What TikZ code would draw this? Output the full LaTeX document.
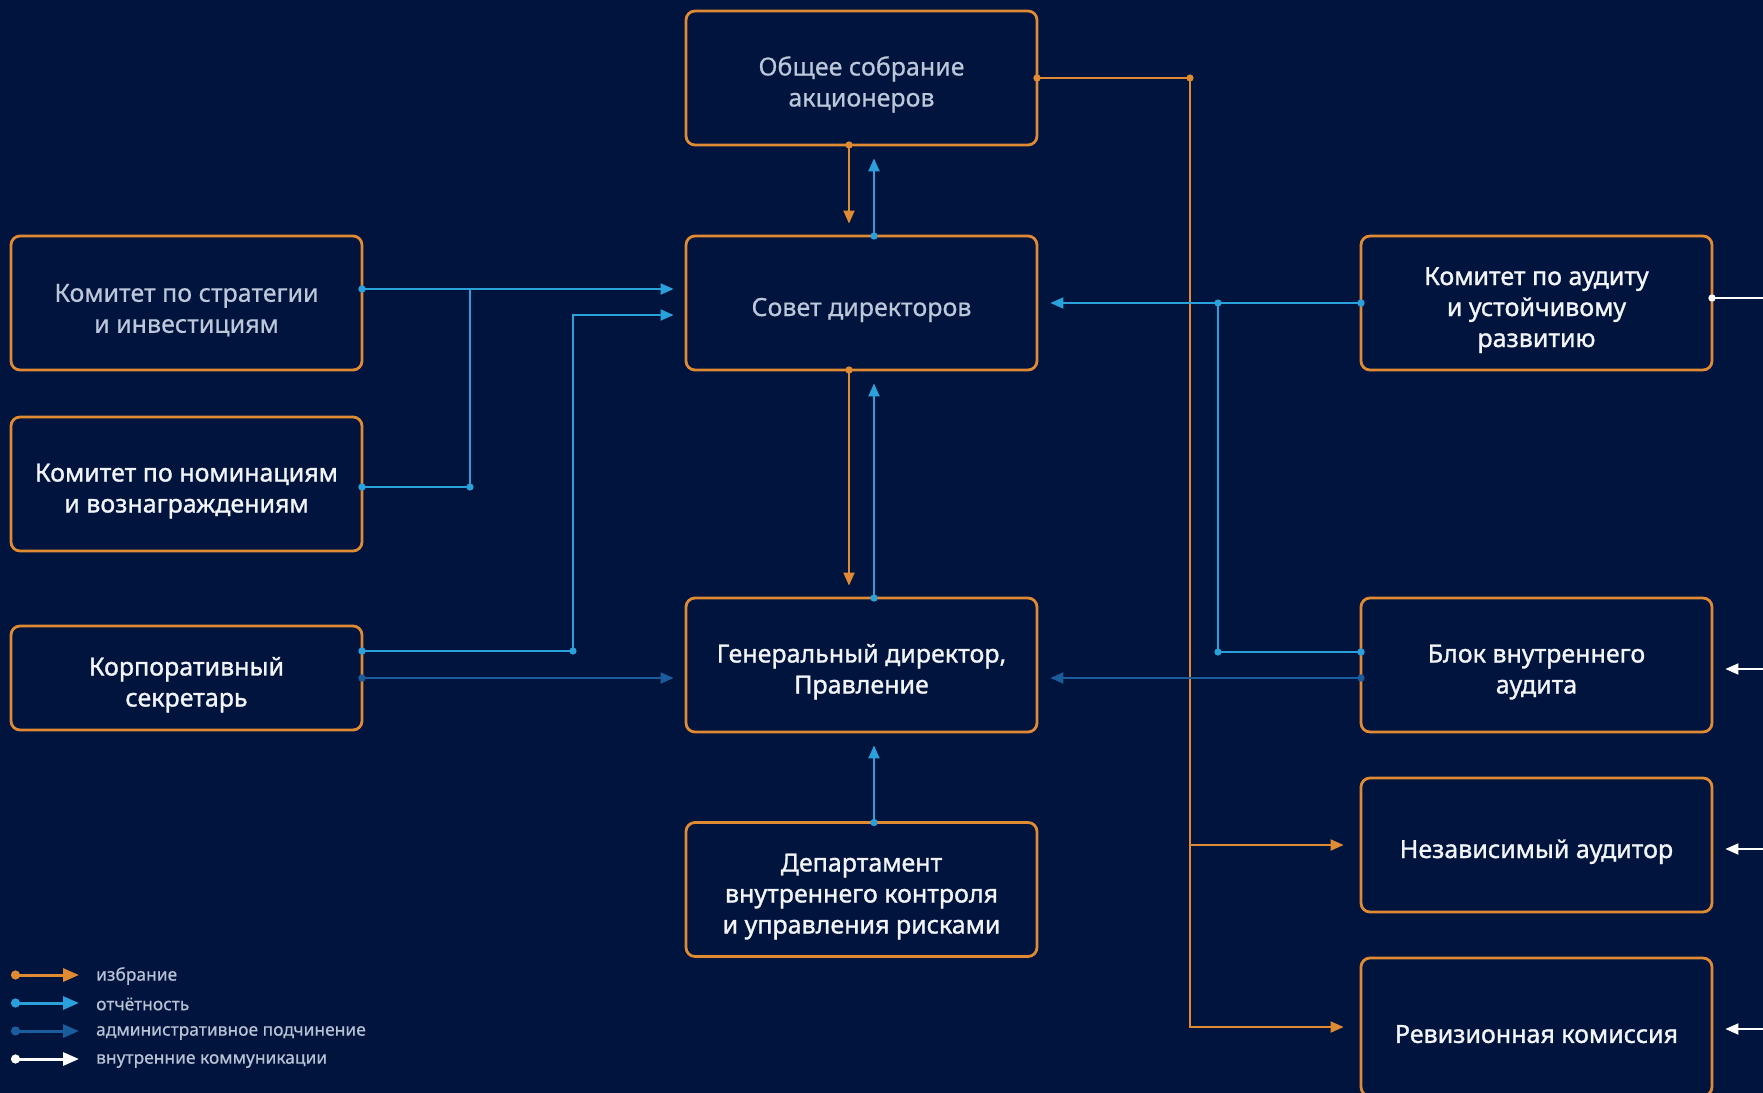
\documentclass[tikz,border=0pt]{standalone}
\usepackage{fontspec}
\setmainfont{Noto Sans}
\newfontfamily\boxfont{Noto Sans}[FakeBold=1.2]
\newfontfamily\dimfont{Noto Sans}[FakeBold=0.5]
\newfontfamily\legfont{Noto Sans}[FakeBold=0.6]
\usetikzlibrary{arrows.meta}

\definecolor{bg}{HTML}{00143D}
\definecolor{elect}{HTML}{E08A33}
\definecolor{report}{HTML}{2BA1DC}
\definecolor{admin}{HTML}{1A5C9C}
\definecolor{txt}{HTML}{F2F4F8}
\definecolor{txtdim}{HTML}{BCC7DA}
\definecolor{legtxt}{HTML}{B9C2D4}

% lowers the text a little inside its box
\newcommand{\lift}{\rule{0pt}{16pt}}

\begin{document}
\begin{tikzpicture}[x=0.5pt,y=-0.5pt]
		\fill[bg] (0,0) rectangle (1763,1093);
		\useasboundingbox (0,0) rectangle (1763,1093);
		\begin{scope}[every node/.style={draw=elect,line width=1.4pt,rounded corners=4.5pt,
			fill=bg,text=txt,align=center,minimum width=175.5pt,minimum height=67pt,
			font=\boxfont\fontsize{12.5}{15.5}\selectfont},
			dimbox/.style={text=txtdim,font=\dimfont\fontsize{12.5}{15.5}\selectfont}]
			\node[dimbox] (gms) at (861.5,78) {\lift Общее собрание\\акционеров};
			\node[dimbox] (sd) at (861.5,303) {\lift Совет директоров};
			\node (gd) at (861.5,665) {\lift Генеральный директор,\\Правление};
			\node (dic) at (861.5,889.5) {\lift Департамент\\внутреннего контроля\\и управления рисками};
			\node[dimbox] (str) at (186.5,303) {\lift Комитет по стратегии\\и инвестициям};
			\node (nom) at (186.5,484) {\lift Комитет по номинациям\\и вознаграждениям};
			\node[minimum height=52pt] (sec) at (186.5,678) {\lift Корпоративный\\секретарь};
			\node (ac) at (1536.5,303) {\lift Комитет по аудиту\\и устойчивому\\развитию};
			\node (ia) at (1536.5,665) {\lift Блок внутреннего\\аудита};
			\node (ext) at (1536.5,845) {\lift Независимый аудитор};
			\node[minimum height=69pt] (rev) at (1536.5,1027) {\lift Ревизионная комиссия};
		\end{scope}
		% junctions and free ends
		\coordinate (etop) at (1190,78);
		\coordinate (strj) at (470,289);
		\coordinate (nomj) at (470,487);
		\coordinate (secb) at (573,651);
		\coordinate (secu) at (573,315);
		\coordinate (acj) at (1218,303);
		\coordinate (iaj) at (1218,652);
		\coordinate (acout) at (1763,298);
		\coordinate (iain) at (1763,669);
		\coordinate (extin) at (1763,849);
		\coordinate (revin) at (1763,1029);
		\begin{scope}[line width=1pt,
			>={Triangle[length=6.5pt,width=5.5pt]},
			elline/.style={draw=elect,{Circle[length=3.6pt]}->,shorten <=-2.5pt},
			repline/.style={draw=report,{Circle[length=3.6pt]}->,shorten <=-2.5pt},
			repjoin/.style={draw=report,{Circle[length=3.6pt]}-,shorten <=-2.5pt},
			admline/.style={draw=admin,{Circle[length=3.6pt]}->,shorten <=-2.5pt},
			comline/.style={draw=white,->}]
			% election
			\draw[elline,shorten >=5.5pt] ([xshift=-6.25pt]gms.south) -- ([xshift=-6.25pt]sd.north);
			\draw[elline,shorten >=5.5pt] ([xshift=-6.25pt]sd.south) -- ([xshift=-6.25pt]gd.north);
			\draw[elline,shorten >=8pt] (gms.east) -- (etop) |- (rev.west);
			\draw[draw=elect,->,shorten >=8pt] (etop |- ext.west) -- (ext.west);
			% reporting
			\draw[repline,shorten >=6pt] ([xshift=6.25pt]sd.north) -- ([xshift=6.25pt]gms.south);
			\draw[repline,shorten >=6pt] ([xshift=6.25pt]gd.north) -- ([xshift=6.25pt]sd.south);
			\draw[repline,shorten >=6pt] ([xshift=6.25pt]dic.north) -- ([xshift=6.25pt]gd.south);
			\draw[repline,shorten >=5.5pt] ([yshift=7pt]str.east) -- ([yshift=7pt]sd.west);
			\draw[repjoin] (nom.east |- nomj) -- (nomj) -- (strj);
			\draw[repline,shorten >=5.5pt] ([yshift=13.5pt]sec.east) -- (secb) -- (secu) -- ([yshift=-6pt]sd.west);
			\draw[repline,shorten >=6pt] (ac.west) -- (sd.east);
			\draw[repjoin] ([yshift=6.5pt]ia.west) -- (iaj) -- (acj);
			% administrative
			\draw[admline,shorten >=5.5pt] (sec.east) -- ([yshift=-6.5pt]gd.west);
			\draw[admline,shorten >=6pt] ([yshift=-6.5pt]ia.west) -- ([yshift=-6.5pt]gd.east);
			% internal communications
			\draw[draw=white,{Circle[length=3.6pt]}-,shorten <=-2.5pt] ([yshift=2.5pt]ac.east) -- (acout);
			\draw[comline,shorten >=6pt] (iain) -- (iain -| ia.east);
			\draw[comline,shorten >=6pt] (extin) -- (extin -| ext.east);
			\draw[comline,shorten >=6pt] (revin) -- (revin -| rev.east);
		\end{scope}
		\fill[elect] (etop) circle (1.8pt);
		\fill[report] (nomj) circle (1.8pt) (secb) circle (1.8pt) (acj) circle (1.8pt) (iaj) circle (1.8pt);
		% legend
		\begin{scope}[line width=1.5pt,>={Triangle[length=8pt,width=6.5pt]},
			every node/.style={anchor=west,text=legtxt,font=\legfont\fontsize{8.7}{10}\selectfont}]
			\draw[elect,{Circle[length=4.5pt]}->] (11,975) -- (79,975);
			\draw[report,{Circle[length=4.5pt]}->] (11,1003) -- (79,1003);
			\draw[admin,{Circle[length=4.5pt]}->] (11,1031) -- (79,1031);
			\draw[white,{Circle[length=4.5pt]}->] (11,1059) -- (79,1059);
			\node (leg1) at (88,976) {избрание};
			\node (leg2) at (88,1004) {отчётность};
			\node (leg3) at (88,1033) {административное подчинение};
			\node (leg4) at (88,1061) {внутренние коммуникации};
		\end{scope}
	\end{tikzpicture}
\end{document}
